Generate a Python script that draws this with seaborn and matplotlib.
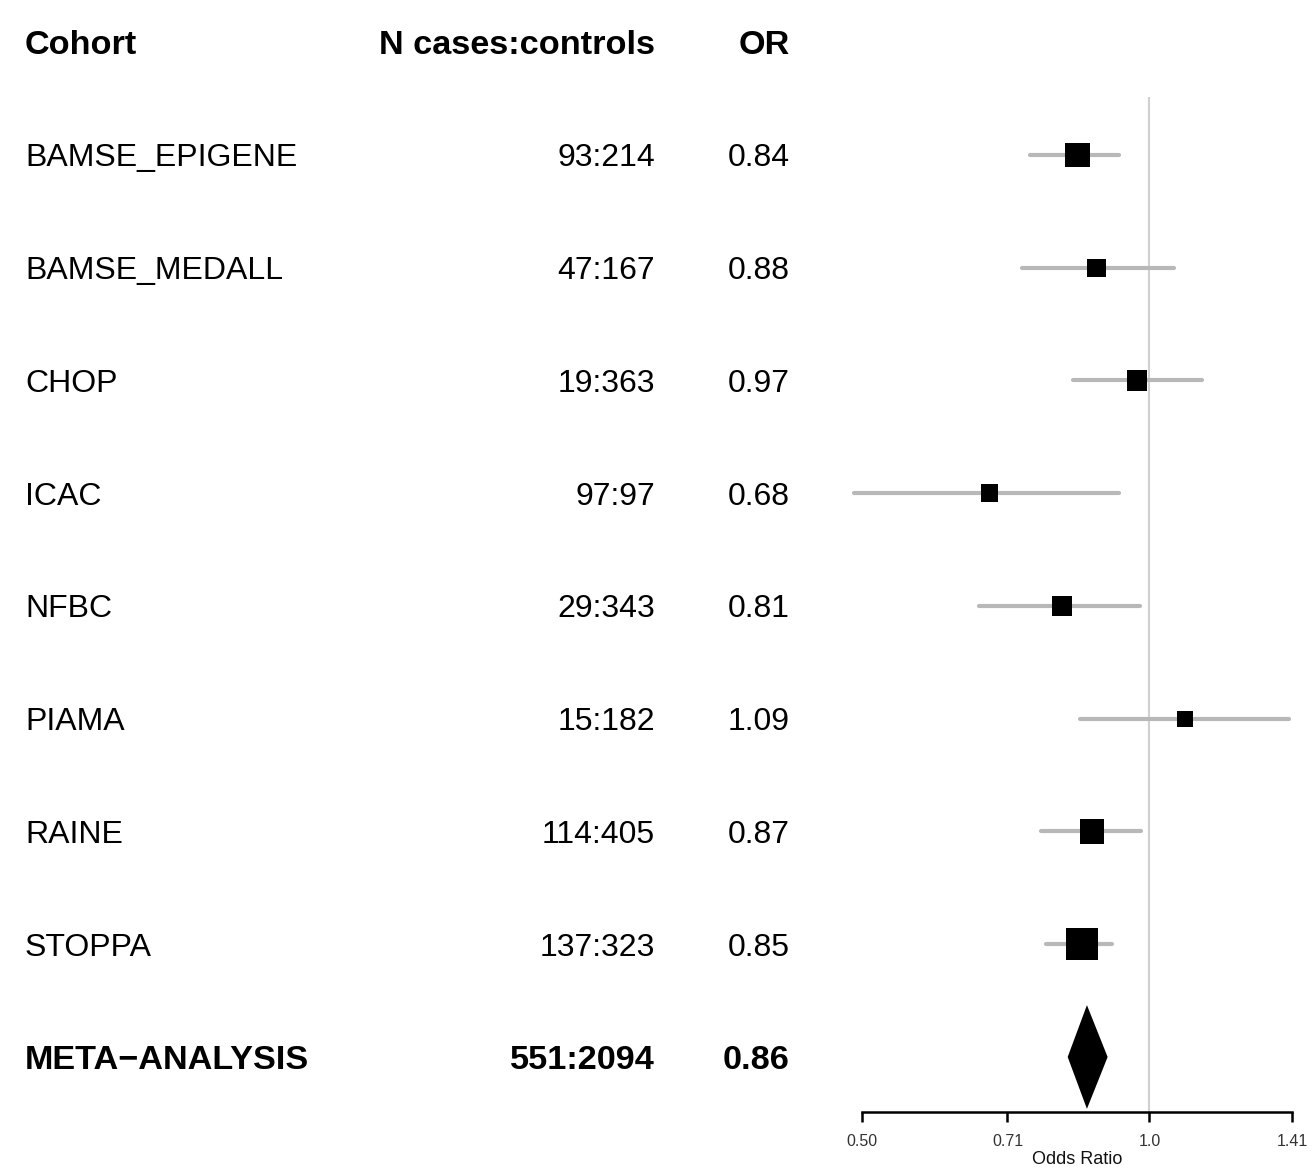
import numpy as np
import pandas as pd
import matplotlib
matplotlib.use("Agg")
import matplotlib.pyplot as plt
from matplotlib.transforms import blended_transform_factory
import seaborn as sns

# ---- data ----
cohorts = ["BAMSE_EPIGENE", "BAMSE_MEDALL", "CHOP", "ICAC", "NFBC", "PIAMA", "RAINE", "STOPPA"]
n_cases_controls = ["93:214", "47:167", "19:363", "97:97", "29:343", "15:182", "114:405", "137:323"]
odds_ratio = [0.84, 0.88, 0.97, 0.68, 0.81, 1.09, 0.87, 0.85]
or_labels = ["0.84", "0.88", "0.97", "0.68", "0.81", "1.09", "0.87", "0.85"]
ci_lower = [0.75, 0.735, 0.832, 0.49, 0.663, 0.846, 0.77, 0.78]
ci_upper = [0.93, 1.062, 1.136, 0.93, 0.978, 1.40, 0.98, 0.913]
weights = [16.0, 8.6, 11.0, 8.0, 9.5, 6.3, 14.8, 25.8]

meta_label = "META\u2212ANALYSIS"
meta_n = "551:2094"
meta_or = 0.86
meta_or_label = "0.86"
meta_lower = 0.821
meta_upper = 0.904

x_ticks = [0.50, 0.71, 1.0, 1.41]
x_tick_labels = ["0.50", "0.71", "1.0", "1.41"]
headers = ["Cohort", "N cases:controls", "OR"]

# ---- figure ----
sns.set_style("white")
plt.rcParams["font.family"] = ["Liberation Sans", "DejaVu Sans"]
plt.rcParams["text.color"] = "black"

W, H = 1312, 1170
fig = plt.figure(figsize=(W / 100, H / 100), dpi=100)

ax_left, ax_right = 862, 1292
ax_top, ax_bottom = 97, 1112
ax = fig.add_axes([ax_left / W, 1 - ax_bottom / H, (ax_right - ax_left) / W, (ax_bottom - ax_top) / H])

row0, row_step = 155, 112.75
ax.set_xscale("log", base=2)
ax.set_xlim(0.5, 1.41)
ax.set_ylim((ax_bottom - row0) / row_step, (ax_top - row0) / row_step)

df = pd.DataFrame({
    "cohort": cohorts,
    "row": np.arange(len(cohorts)),
    "OR": odds_ratio,
    "lo": ci_lower,
    "hi": ci_upper,
    "w": weights,
})

# reference line at OR = 1
ax.axvline(1.0, color="#d0d0d0", lw=1.5, zorder=0)

# confidence intervals
ax.hlines(df["row"], df["lo"], df["hi"], color="#b8b8b8", lw=3.0, zorder=1,
          clip_on=False, capstyle="round")

# squares (area proportional to weight)
k = 20.2
sns.scatterplot(data=df, x="OR", y="row", size="w",
                sizes=(min(weights) * k, max(weights) * k),
                size_norm=(min(weights), max(weights)),
                marker="s", color="black", linewidth=0, legend=False,
                ax=ax, zorder=3, clip_on=False)

# meta-analysis diamond
meta_row = len(cohorts)
half_h = 0.46
ax.fill([meta_lower, meta_or, meta_upper, meta_or],
        [meta_row, meta_row - half_h, meta_row, meta_row + half_h],
        color="black", lw=0, zorder=3, clip_on=False)

# axes styling
for s in ["top", "right", "left"]:
    ax.spines[s].set_visible(False)
ax.spines["bottom"].set_linewidth(1.8)
ax.spines["bottom"].set_color("black")
ax.set_yticks([])
ax.xaxis.set_major_locator(matplotlib.ticker.FixedLocator(x_ticks))
ax.xaxis.set_minor_locator(matplotlib.ticker.NullLocator())
ax.set_xticklabels(x_tick_labels)
ax.tick_params(axis="x", direction="out", length=7, width=1.8, color="black",
               labelsize=11.5, labelcolor="#333333", pad=9, bottom=True)
ax.set_xlabel("Odds Ratio", fontsize=13, labelpad=1, color="#111111")
ax.set_ylabel("")

# text columns
tr = blended_transform_factory(fig.transFigure, ax.transData)
x_cohort = 25 / W
x_n = 655 / W
x_or = 790 / W
fs, fsb = 23, 24.7

off_reg = 11.5 / row_step
off_bold = 12.3 / row_step
head_base = (54 - row0) / row_step

def put(x, y, s, ha, bold=False):
    ax.text(x, y, s, transform=tr, ha=ha, va="baseline",
            fontsize=fsb if bold else fs, fontweight="bold" if bold else "normal",
            color="black", clip_on=False)

put(x_cohort, head_base, headers[0], "left", True)
put(x_n, head_base, headers[1], "right", True)
put(x_or, head_base, headers[2], "right", True)

for i, (c, n, o) in enumerate(zip(cohorts, n_cases_controls, or_labels)):
    put(x_cohort, i + off_reg, c, "left")
    put(x_n, i + off_reg, n, "right")
    put(x_or, i + off_reg, o, "right")

put(x_cohort, meta_row + off_bold, meta_label, "left", True)
put(x_n, meta_row + off_bold, meta_n, "right", True)
put(x_or, meta_row + off_bold, meta_or_label, "right", True)

fig.savefig("out.png", dpi=100, facecolor="white")
